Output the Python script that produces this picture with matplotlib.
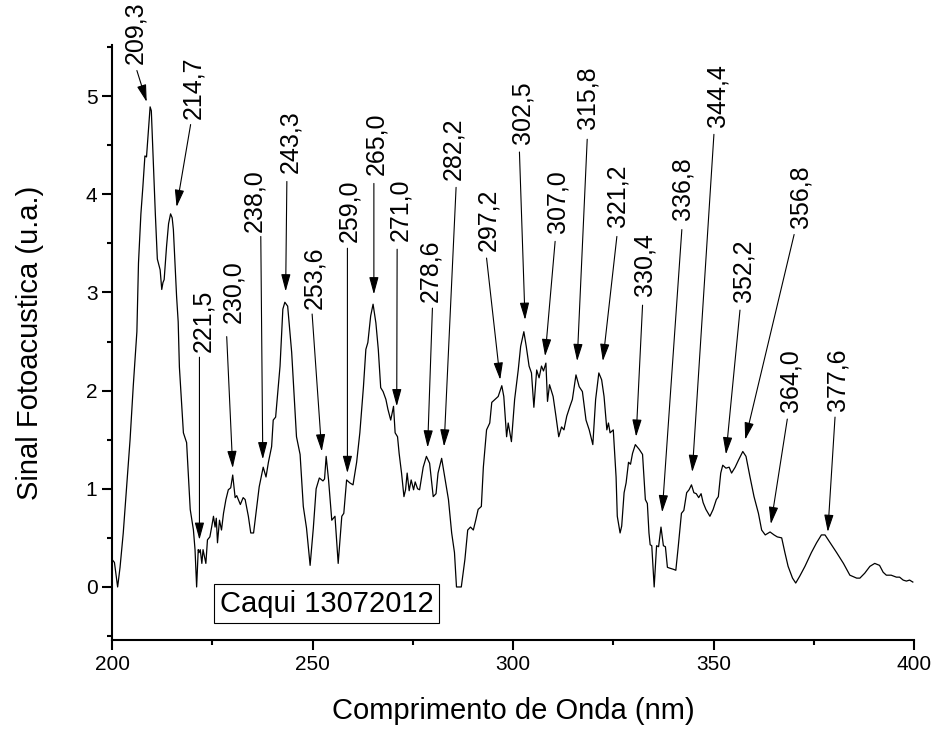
import matplotlib
matplotlib.use("Agg")
import matplotlib.pyplot as plt
from matplotlib.ticker import MultipleLocator

plt.rcParams['font.family'] = ['Liberation Sans', 'DejaVu Sans']

wavelength = [200.2, 200.6, 201.4, 202.0, 202.8, 203.6, 204.5, 205.3, 206.2, 206.6, 207.2, 207.7,
    208.2, 208.6, 209.0, 209.5, 209.8, 210.3, 210.8, 211.3, 212.0, 212.4, 212.7, 213.0, 213.6,
    214.1, 214.6, 215.0, 215.3, 215.7, 216.1, 216.5, 216.8, 217.3, 217.8, 218.6, 219.5, 220.3,
    220.7, 221.1, 221.5, 221.7, 222.0, 222.4, 222.7, 223.1, 223.4, 223.8, 224.4, 224.8, 225.3,
    225.7, 226.0, 226.3, 226.8, 227.3, 227.8, 228.4, 229.0, 229.6, 230.1, 230.7, 231.1, 231.5,
    232.0, 232.7, 233.2, 234.0, 234.6, 235.3, 235.9, 236.7, 237.7, 238.4, 239.0, 239.8, 240.2,
    240.8, 241.9, 242.6, 243.1, 243.8, 244.8, 246.0, 246.9, 247.7, 248.5, 249.4, 250.2, 250.9,
    251.7, 252.6, 253.0, 253.4, 254.0, 254.8, 255.6, 256.4, 257.3, 257.8, 258.5, 259.3, 260.1,
    261.0, 261.8, 262.7, 263.3, 263.8, 264.5, 265.1, 265.8, 266.4, 267.0, 267.6, 268.3, 268.8,
    269.5, 270.2, 270.6, 271.2, 271.6, 272.2, 272.8, 273.2, 273.6, 274.1, 274.6, 275.2, 275.6,
    276.2, 276.7, 277.6, 278.4, 279.2, 280.1, 280.8, 281.3, 282.2, 283.1, 283.9, 284.7, 285.4,
    285.9, 287.1, 288.0, 288.7, 289.4, 290.1, 290.7, 291.3, 292.1, 292.6, 293.4, 294.2, 294.7,
    295.5, 296.3, 297.2, 297.7, 298.4, 298.8, 299.6, 300.4, 301.3, 301.9, 302.7, 303.3, 304.0,
    304.6, 305.2, 305.9, 306.5, 307.1, 307.6, 308.2, 308.6, 309.1, 310.0, 310.7, 311.4, 312.1,
    312.7, 313.4, 314.2, 314.8, 315.7, 316.5, 317.3, 318.2, 319.0, 319.9, 320.6, 321.4, 322.1,
    322.7, 323.4, 323.8, 324.2, 325.0, 325.7, 326.0, 326.7, 327.1, 327.7, 328.2, 328.8, 329.3,
    329.8, 330.5, 331.5, 332.3, 333.0, 333.5, 333.9, 334.2, 334.6, 335.2, 335.8, 336.3, 336.9,
    337.5, 338.0, 338.5, 339.2, 340.0, 340.6, 341.2, 342.0, 342.6, 343.3, 343.9, 344.5, 345.1,
    345.7, 346.3, 346.9, 347.4, 348.1, 349.1, 349.9, 350.7, 351.2, 351.8, 352.3, 353.1, 353.9,
    354.5, 355.4, 356.2, 357.3, 358.1, 359.1, 360.1, 361.2, 362.0, 362.9, 364.1, 365.1, 365.9,
    367.0, 367.8, 368.6, 369.7, 370.5, 371.5, 372.8, 374.4, 375.7, 376.9, 377.8, 379.1, 380.7,
    382.4, 384.0, 385.7, 386.5, 387.7, 389.0, 390.2, 391.4, 392.3, 393.1, 394.3, 395.6, 396.4,
    397.3, 398.1, 398.9, 399.7]

signal = [0.27, 0.25, 0.00, 0.20, 0.55, 1.00, 1.50, 2.05, 2.60, 3.30, 3.80, 4.08,
    4.39, 4.38, 4.60, 4.89, 4.85, 4.33, 3.80, 3.34, 3.23, 3.03, 3.10, 3.13, 3.47,
    3.70, 3.80, 3.76, 3.64, 3.30, 2.96, 2.70, 2.24, 1.90, 1.57, 1.47, 0.79, 0.58,
    0.38, 0.00, 0.38, 0.35, 0.38, 0.24, 0.38, 0.30, 0.24, 0.48, 0.51, 0.60, 0.72,
    0.61, 0.70, 0.45, 0.68, 0.58, 0.75, 0.89, 0.99, 1.01, 1.14, 0.91, 0.93, 0.89,
    0.84, 0.91, 0.89, 0.72, 0.55, 0.55, 0.75, 1.02, 1.22, 1.12, 1.27, 1.43, 1.70,
    1.73, 2.25, 2.83, 2.90, 2.86, 2.39, 1.53, 1.35, 0.82, 0.60, 0.22, 0.60, 1.00,
    1.11, 1.08, 1.10, 1.33, 1.09, 0.68, 0.72, 0.24, 0.72, 0.75, 1.09, 1.06, 1.04,
    1.27, 1.57, 2.04, 2.42, 2.49, 2.76, 2.88, 2.69, 2.42, 2.03, 1.99, 1.91, 1.81,
    1.70, 1.84, 1.57, 1.53, 1.36, 1.16, 0.92, 0.99, 1.16, 0.98, 1.09, 0.99, 1.07,
    1.00, 0.99, 1.22, 1.33, 1.26, 0.92, 0.95, 1.16, 1.31, 1.09, 0.89, 0.55, 0.35,
    0.00, 0.00, 0.28, 0.58, 0.61, 0.58, 0.68, 0.79, 0.82, 1.22, 1.60, 1.67, 1.88,
    1.91, 1.94, 2.05, 1.94, 1.53, 1.67, 1.48, 1.91, 2.21, 2.45, 2.60, 2.45, 2.25,
    2.18, 1.83, 2.21, 2.13, 2.25, 2.20, 2.28, 1.89, 2.06, 1.94, 1.74, 1.53, 1.63,
    1.60, 1.74, 1.84, 1.91, 2.16, 2.04, 1.99, 1.70, 1.60, 1.45, 1.91, 2.18, 2.11,
    1.94, 1.60, 1.67, 1.57, 1.60, 1.12, 0.72, 0.55, 0.62, 0.96, 1.06, 1.27, 1.25,
    1.36, 1.45, 1.40, 1.35, 0.89, 0.85, 0.55, 0.43, 0.42, 0.00, 0.42, 0.41, 0.61,
    0.42, 0.41, 0.20, 0.19, 0.18, 0.17, 0.41, 0.75, 0.78, 0.96, 0.99, 1.04, 0.96,
    0.95, 0.91, 0.95, 0.86, 0.79, 0.72, 0.79, 0.89, 0.92, 1.16, 1.24, 1.21, 1.22,
    1.16, 1.22, 1.29, 1.38, 1.33, 1.12, 0.92, 0.75, 0.58, 0.53, 0.56, 0.53, 0.51,
    0.50, 0.35, 0.21, 0.09, 0.04, 0.11, 0.21, 0.35, 0.45, 0.53, 0.53, 0.45, 0.35,
    0.24, 0.12, 0.09, 0.09, 0.14, 0.21, 0.24, 0.22, 0.15, 0.12, 0.12, 0.10, 0.10,
    0.07, 0.06, 0.07, 0.05]

peak_labels = ["209,3", "214,7", "221,5", "230,0", "238,0", "243,3", "253,6", "259,0",
    "265,0", "271,0", "278,6", "282,2", "297,2", "302,5", "307,0", "315,8", "321,2",
    "330,4", "336,8", "344,4", "352,2", "356,8", "364,0", "377,6"]
# arrow tips (wavelength, signal)
tip_x = [208.65, 216.1, 221.8, 230.1, 237.6, 243.3, 252.3, 258.7, 265.3, 271.0, 278.7, 282.8,
    296.8, 303.0, 308.0, 316.0, 322.4, 330.7, 337.2, 344.7, 353.1, 357.9, 364.3, 378.5]
tip_y = [4.94, 3.87, 0.48, 1.21, 1.30, 3.01, 1.38, 1.16, 2.98, 1.84, 1.42, 1.43,
    2.11, 2.72, 2.35, 2.30, 2.30, 1.53, 0.76, 1.17, 1.35, 1.50, 0.64, 0.56]
# arrow tails
tail_x = [206.2, 219.6, 221.8, 228.6, 237.1, 243.6, 249.9, 258.7, 265.3, 271.1, 279.9, 285.8,
    293.4, 301.6, 310.5, 318.5, 325.9, 332.3, 342.1, 350.1, 356.6, 370.1, 368.4, 380.3]
tail_y = [5.26, 4.71, 2.34, 2.55, 3.57, 4.13, 2.78, 3.45, 4.11, 3.44, 2.84, 4.07,
    3.35, 4.43, 3.52, 4.56, 3.57, 2.87, 3.64, 4.61, 2.82, 3.59, 1.71, 1.73]
# label anchor (centre x, bottom y)
text_x = [205.7, 220.2, 222.7, 230.2, 235.4, 244.4, 250.4, 259.1, 265.8, 272.0, 279.3, 285.1,
    293.8, 302.3, 311.0, 318.5, 326.0, 332.7, 342.2, 350.9, 357.6, 371.7, 369.3, 380.9]
text_y = [5.33, 4.77, 2.39, 2.69, 3.62, 4.22, 2.83, 3.51, 4.20, 3.52, 2.90, 4.15,
    3.42, 4.51, 3.61, 4.66, 3.67, 2.96, 3.74, 4.68, 2.90, 3.66, 1.78, 1.79]

sample_name = "Caqui 13072012"

fig = plt.figure(figsize=(9.39, 7.33), dpi=100)
ax = fig.add_axes([0.1193, 0.1269, 0.8541, 0.8117])
ax.plot(wavelength, signal, color='black', lw=0.9)
ax.set_xlim(200, 400)
ax.set_ylim(-0.54, 5.52)

for lab, tx, ty, ax_, ay_, lx, ly in zip(peak_labels, tip_x, tip_y, tail_x, tail_y, text_x, text_y):
    ax.annotate('', xy=(tx, ty), xytext=(ax_, ay_),
                arrowprops=dict(arrowstyle='-|>,head_length=0.7,head_width=0.19',
                                color='black', lw=0.8, shrinkA=0, shrinkB=0,
                                mutation_scale=15), clip_on=False)
    ax.text(lx, ly, lab, rotation=90, ha='center', va='bottom', fontsize=18, clip_on=False)

ax.text(253.5, -0.17, sample_name, ha='center', va='center', fontsize=21,
        bbox=dict(boxstyle='square,pad=0.2', fc='white', ec='black', lw=0.8))

for s in ['top', 'right']:
    ax.spines[s].set_visible(False)
for s in ['left', 'bottom']:
    ax.spines[s].set_linewidth(1.5)

ax.xaxis.set_major_locator(MultipleLocator(50))
ax.xaxis.set_minor_locator(MultipleLocator(25))
ax.yaxis.set_major_locator(MultipleLocator(1))
ax.yaxis.set_minor_locator(MultipleLocator(0.5))
ax.tick_params(which='major', direction='out', length=7, width=1.5, labelsize=15)
ax.tick_params(which='minor', direction='out', length=3.5, width=1.5)

ax.set_xlabel('Comprimento de Onda (nm)', fontsize=21, labelpad=17)
ax.set_ylabel('Sinal Fotoacustica (u.a.)', fontsize=21, labelpad=30)

fig.savefig('out.png', dpi=100)
